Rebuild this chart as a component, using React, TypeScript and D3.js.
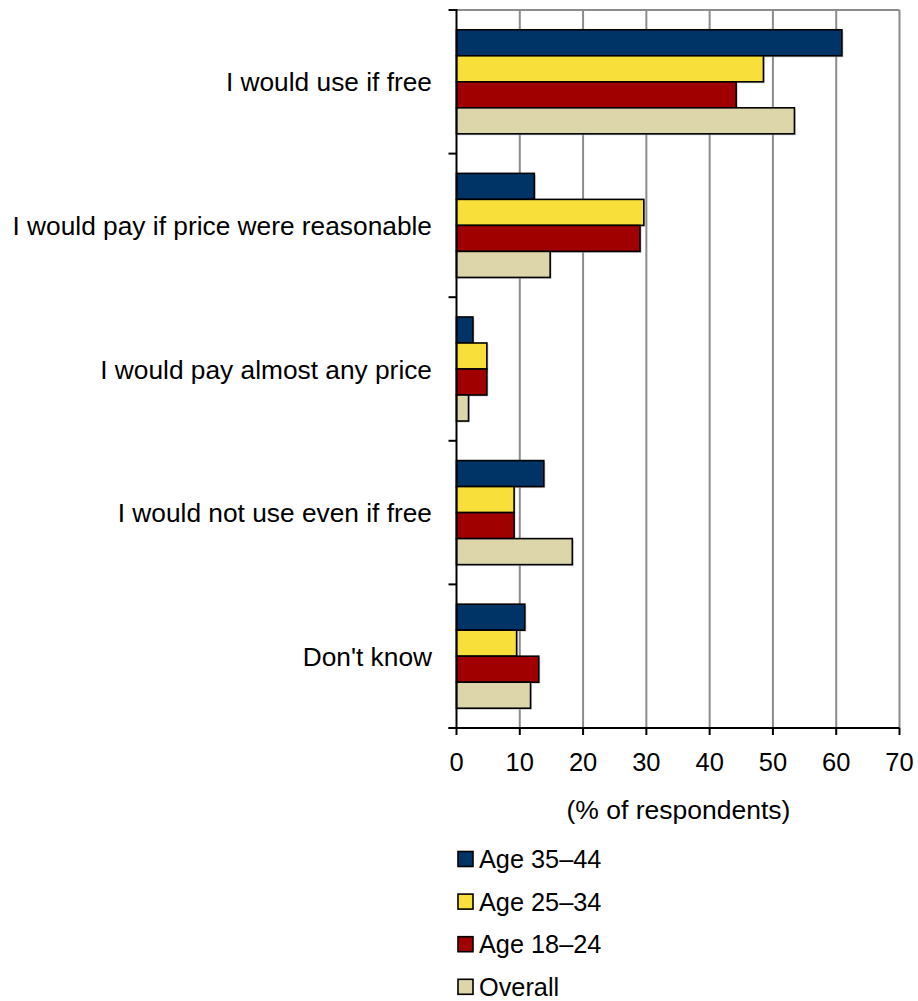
import React from "react";
import * as d3 from "d3";

const categories = [
  "I would use if free",
  "I would pay if price were reasonable",
  "I would pay almost any price",
  "I would not use even if free",
  "Don't know",
];
const seriesNames = ["Age 35–44", "Age 25–34", "Age 18–24", "Overall"];
const age3544 = [60.9, 12.3, 2.6, 13.8, 10.8];
const age2534 = [48.5, 29.6, 4.8, 9.1, 9.5];
const age1824 = [44.2, 29.0, 4.8, 9.1, 13.0];
const overall = [53.4, 14.8, 1.9, 18.3, 11.7];
const seriesValues = [age3544, age2534, age1824, overall];
const colors = ["#003366", "#F8DF3A", "#A00000", "#DDD6AB"];
const xTicks = [0, 10, 20, 30, 40, 50, 60, 70];
const axisTitle = "(% of respondents)";

const FONT = "'Liberation Sans', Arial, sans-serif";

export default function App() {
  const left = 456.5;
  const right = 899.5;
  const top = 10;
  const bottom = 728;
  const x = d3.scaleLinear().domain([0, 70]).range([left, right]);
  const y = d3.scaleBand<number>().domain(d3.range(categories.length)).range([top, bottom]).padding(0);
  const inner = d3
    .scaleBand<number>()
    .domain(d3.range(seriesNames.length))
    .range([0, y.bandwidth()])
    .paddingInner(0)
    .paddingOuter(0.76);

  const boundaries = d3.range(categories.length + 1).map((i) => top + i * y.step());

  return (
    <svg
      width={918}
      height={1001}
      style={{ position: "absolute", left: 0, top: 0, background: "#fff" }}
      fontFamily={FONT}
    >
      {/* grid */}
      {xTicks.slice(1).map((t) => (
        <line key={"g" + t} x1={x(t)} x2={x(t)} y1={top} y2={bottom} stroke="#8c8c8c" strokeWidth={2} />
      ))}
      <line x1={left} x2={right} y1={top} y2={top} stroke="#8c8c8c" strokeWidth={2} />

      {/* bars */}
      {categories.map((c, ci) =>
        seriesValues.map((vals, si) => {
          const yy = (y(ci) as number) + (inner(si) as number);
          const h = inner.bandwidth();
          const w = x(vals[ci]) - x(0);
          return (
            <g key={ci + "-" + si}>
              <rect x={x(0) + 1.5} y={yy + 1.5} width={w} height={h} fill="#b0b0b0" opacity={0.6} />
              <rect x={x(0)} y={yy} width={w} height={h} fill={colors[si]} stroke="#000" strokeWidth={1.6} />
            </g>
          );
        })
      )}

      {/* y axis */}
      <line x1={left} x2={left} y1={top - 1} y2={bottom} stroke="#000" strokeWidth={2} />
      {boundaries.map((b, i) => (
        <line key={"yt" + i} x1={left - 8} x2={left} y1={b} y2={b} stroke="#000" strokeWidth={2} />
      ))}
      {/* x axis */}
      <line x1={left - 8} x2={right} y1={bottom} y2={bottom} stroke="#000" strokeWidth={2} />
      {xTicks.map((t) => (
        <g key={"xt" + t}>
          <line x1={x(t)} x2={x(t)} y1={bottom} y2={bottom + 7} stroke="#000" strokeWidth={2} />
          <text x={x(t)} y={771} textAnchor="middle" fontSize={25.5} fill="#000">
            {t}
          </text>
        </g>
      ))}
      <text x={678.5} y={819} textAnchor="middle" fontSize={26.5} fill="#000">
        {axisTitle}
      </text>

      {/* category labels */}
      {categories.map((c, ci) => (
        <text
          key={"c" + ci}
          x={432}
          y={(y(ci) as number) + y.bandwidth() / 2 + 9.5}
          textAnchor="end"
          fontSize={26.3}
          fill="#000"
        >
          {c}
        </text>
      ))}

      {/* legend */}
      {seriesNames.map((s, si) => {
        const ly = 851.5 + si * 42.6;
        return (
          <g key={"l" + si}>
            <rect x={458} y={ly} width={15} height={15} fill={colors[si]} stroke="#000" strokeWidth={1.6} />
            <text x={479} y={ly + 16.5} fontSize={25.3} fill="#000">
              {s}
            </text>
          </g>
        );
      })}
    </svg>
  );
}
